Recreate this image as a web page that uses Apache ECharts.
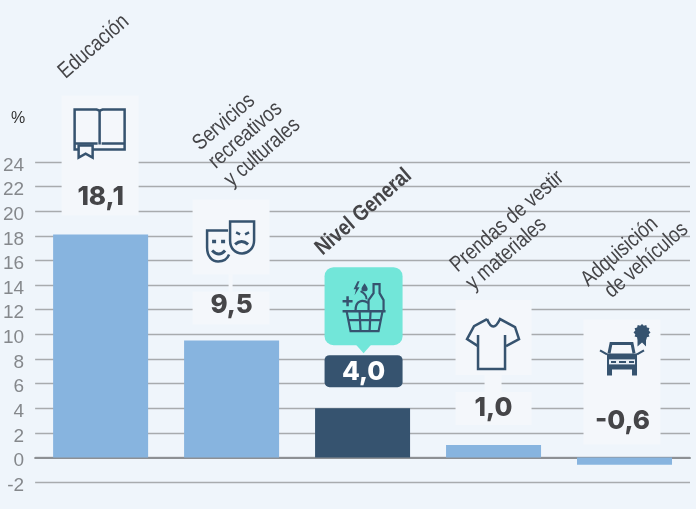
<!DOCTYPE html>
<html>
<head>
<meta charset="utf-8">
<style>html,body{margin:0;padding:0;background:#eff5fb}#chart{width:696px;height:509px}</style>
<script src="https://cdn.jsdelivr.net/npm/echarts@6/dist/echarts.min.js"></script>
</head>
<body>
<div id="chart"></div>
<script>
const categories = ['Educación', 'Servicios\nrecreativos\ny culturales', 'Nivel General', 'Prendas de vestir\ny materiales', 'Adquisición\n  de vehículos'];
const values = [18.1, 9.5, 4.0, 1.0, -0.6];
const highlighted = 'Nivel General';
const unitLabel = '%';

const INK = '#36536f', TILE = '#f4f7fb', TEXT = '#454548';

// Start of each rotated caption, relative to the bar centre and bar top.
const captionAnchors = [[-47, -169], [-43.5, -203], [-52, -166], [-48, -186], [-48, -184]];
const captionFont = '"Liberation Sans", sans-serif';

function line(d, w) { return { type: 'path', shape: { pathData: d }, style: { fill: 'none', stroke: INK, lineWidth: w || 2.5, lineJoin: 'miter' } }; }
function solid(d) { return { type: 'path', shape: { pathData: d }, style: { fill: INK, stroke: 'none' } }; }

function rosette(cx, cy, r) {
  let d = '';
  for (let k = 0; k < 24; k++) {
    const a = k * Math.PI / 12, rr = k % 2 ? r * 0.82 : r;
    d += (k ? 'L' : 'M') + (cx + rr * Math.cos(a)).toFixed(1) + ',' + (cy + rr * Math.sin(a)).toFixed(1);
  }
  return d + 'Z';
}

// Pictograms, drawn around a local origin.
const icons = {
  book: () => [
    line('M0,-20 L-3,-21 H-25 V19 H25 V-21 H3 Z'),
    line('M0,-20 V14 M-25,13 H-2 M2,13 H25'),
    { type: 'path', shape: { pathData: 'M-21,15 V27 L-14,23 L-7,27 V15 Z' }, style: { fill: '#f4f7fb', stroke: INK, lineWidth: 2.5 } }
  ],
  masks: () => [
    line('M-3,-11 H-24 V6 C-24,15 -19,20 -13,20 C-8,20 -4,18 -2,13'),
    { type: 'path', shape: { pathData: 'M-1,-20 H23 V-1 C23,7 17,12 11,12 C4,12 -1,7 -1,-1 Z' }, style: { fill: '#f4f7fb', stroke: INK, lineWidth: 2.5 } },
    line('M-19,9 Q-12,16 -6,9', 3),
    line('M-19,0 H-15 M-10,0 H-6', 3.5),
    line('M5,-9 L9,-7 M14,-7 L18,-9', 2.5),
    line('M4,3 Q10.5,-3 17,3', 3)
  ],
  basket: () => [
    line('M-20,6 H23', 2.5),
    line('M-16,6 L-12,26 H16 L20,6 M-14,15 H18 M-3,6 L-2,26 M8,6 L7,26', 2.2),
    line('M6,6 V-5 L11,-12 V-21 H17 V-12 L21,-5 V6', 2.2),
    line('M-7,5 C-7,-5 0,-6 6,-2', 2.2),
    line('M-2,-14 C2,-12 4,-9 4,-6', 2),
    line('M-20,-4 H-10 M-15,-9 V1', 2.5),
    solid('M-5,-24 L-9,-16 H-6.5 L-8,-10 L-3,-18 H-5.5 L-3,-24 Z'),
    solid('M2,-22 C4,-19 5.5,-17.5 5,-15.5 C4.5,-13.5 -0.5,-13.5 -1,-15.5 C-1.5,-17.5 0,-19 2,-22 Z')
  ],
  shirt: () => [
    line('M-7,-21 Q-1,-6 6,-21 L21,-13 L25,-1 L12,6 M-7,-21 L-20,-14 L-27,-1 L-16,6'),
    line('M-16,-5 V29 H11 V-5')
  ],
  car: () => [
    line('M-13,-6 L-11,-16 H10 L12,-6', 3),
    solid('M-15,-6 H15 V16 H10 V10 H-10 V16 H-15 Z'),
    { type: 'rect', shape: { x: -13, y: 0, width: 26, height: 5 }, style: { fill: '#e9eff6' } },
    line('M-11,2.5 H-6 M-3,2.5 H4 M7,2.5 H12', 2),
    line('M-22,-9 L-15,-5 M22,-9 L15,-5', 2.2),
    solid('M15.5,-23 V-13 L20,-17 L24,-13 V-23 Z'),
    solid(rosette(20, -27, 8.5))
  ]
};

// Per-bar decoration: pictogram, figure height and the pale plates behind them.
const plates = [
  { icon: 'book',   iconX: -1,   iconY: -104, figureY: -37,   boxes: [[-39, 38, -139, -19]] },
  { icon: 'masks',  iconX: -0.5, iconY: -99,  figureY: -35.5, boxes: [[-39, 38, -141, -66], [-3, 1, -66, -49], [-39, 38, -49, -16]] },
  { icon: 'basket', iconX: 0,    iconY: -103, figureY: -36,   boxes: [] },
  { icon: 'shirt',  iconX: 0.5,  iconY: -105, figureY: -37,   boxes: [[-38, 38, -145, -70], [-9, 8, -70, -53], [-38, 38, -53, -20]] },
  { icon: 'car',    iconX: -2.5, iconY: -98,  figureY: -36.5, boxes: [[-41, 36, -138, -13]] }
];

function decorate(params, api) {
  const i = params.dataIndex;
  const cx = api.coord([i, 0])[0];
  const top = api.coord([i, Math.max(values[i], 0)])[1];
  const name = categories[i];
  const isMain = name === highlighted;
  const plate = plates[i];
  const kids = [];
  plate.boxes.forEach(b => kids.push({
    type: 'rect', shape: { x: cx + b[0], y: top + b[2], width: b[1] - b[0], height: b[3] - b[2] },
    style: { fill: TILE }
  }));
  if (isMain) {
    kids.push({ type: 'rect', shape: { x: cx - 38, y: top - 141, width: 78, height: 78, r: 9 }, style: { fill: '#72e6d9' } });
    kids.push({ type: 'polygon', shape: { points: [[cx - 7, top - 64], [cx + 9, top - 64], [cx + 1, top - 55]] }, style: { fill: '#72e6d9' } });
    kids.push({ type: 'rect', shape: { x: cx - 38, y: top - 53, width: 78, height: 32, r: 5 }, style: { fill: INK } });
  }
  kids.push({ type: 'group', x: cx + plate.iconX, y: top + plate.iconY, children: icons[plate.icon]() });
  kids.push({
    type: 'text', x: cx + (isMain ? 1 : 0) + (i === 4 ? -2 : 0), y: top + plate.figureY,
    style: {
      text: values[i].toFixed(1).replace('.', ','), align: 'center', verticalAlign: 'middle',
      font: '800 26px Inter, "Open Sans", sans-serif', fill: isMain ? '#ffffff' : TEXT
    }
  });
  const a = captionAnchors[i];
  kids.push({
    type: 'text', x: cx + a[0], y: top + a[1], rotation: 41 * Math.PI / 180, scaleX: isMain ? 0.85 : 0.83,
    style: {
      text: name, align: 'left', verticalAlign: 'top', lineHeight: 24,
      font: (isMain ? 'bold ' : '') + '22px ' + captionFont, fill: TEXT
    }
  });
  return { type: 'group', children: kids };
}

const chart = echarts.init(document.getElementById('chart'), null, { renderer: 'canvas' });
chart.setOption({
  animation: false,
  backgroundColor: '#eff5fb',
  grid: { left: 35, right: 6, top: 162, bottom: 27 },
  graphic: [{
    type: 'text', left: 11, top: 111,
    style: { text: unitLabel, font: '16px "Liberation Sans", sans-serif', fill: '#333333' }
  }],
  xAxis: {
    type: 'category', data: categories,
    axisTick: { show: false }, axisLabel: { show: false },
    axisLine: { onZero: true, lineStyle: { color: '#8d9094', width: 2 } }
  },
  yAxis: {
    type: 'value', min: -2, max: 24, interval: 2,
    axisLine: { show: false }, axisTick: { show: false },
    axisLabel: {
      margin: 11, formatter: '{n|{value}}',
      rich: { n: { padding: [7, 0, 0, 0], color: '#85888c', fontSize: 19, fontFamily: '"Liberation Sans", sans-serif' } }
    },
    splitLine: { lineStyle: { color: '#a8abae', width: 1.3 } }
  },
  series: [
    {
      type: 'custom', z: 3, renderItem: decorate, silent: true,
      encode: { x: 0, y: 1 }, clip: false,
      data: categories.map((c, i) => [i, values[i]])
    },
    {
      type: 'bar', z: 2, barWidth: 95,
      data: values.map((v, i) => ({
        value: v, itemStyle: { color: categories[i] === highlighted ? INK : '#87b4df' }
      }))
    }
  ]
});
</script>
</body>
</html>
